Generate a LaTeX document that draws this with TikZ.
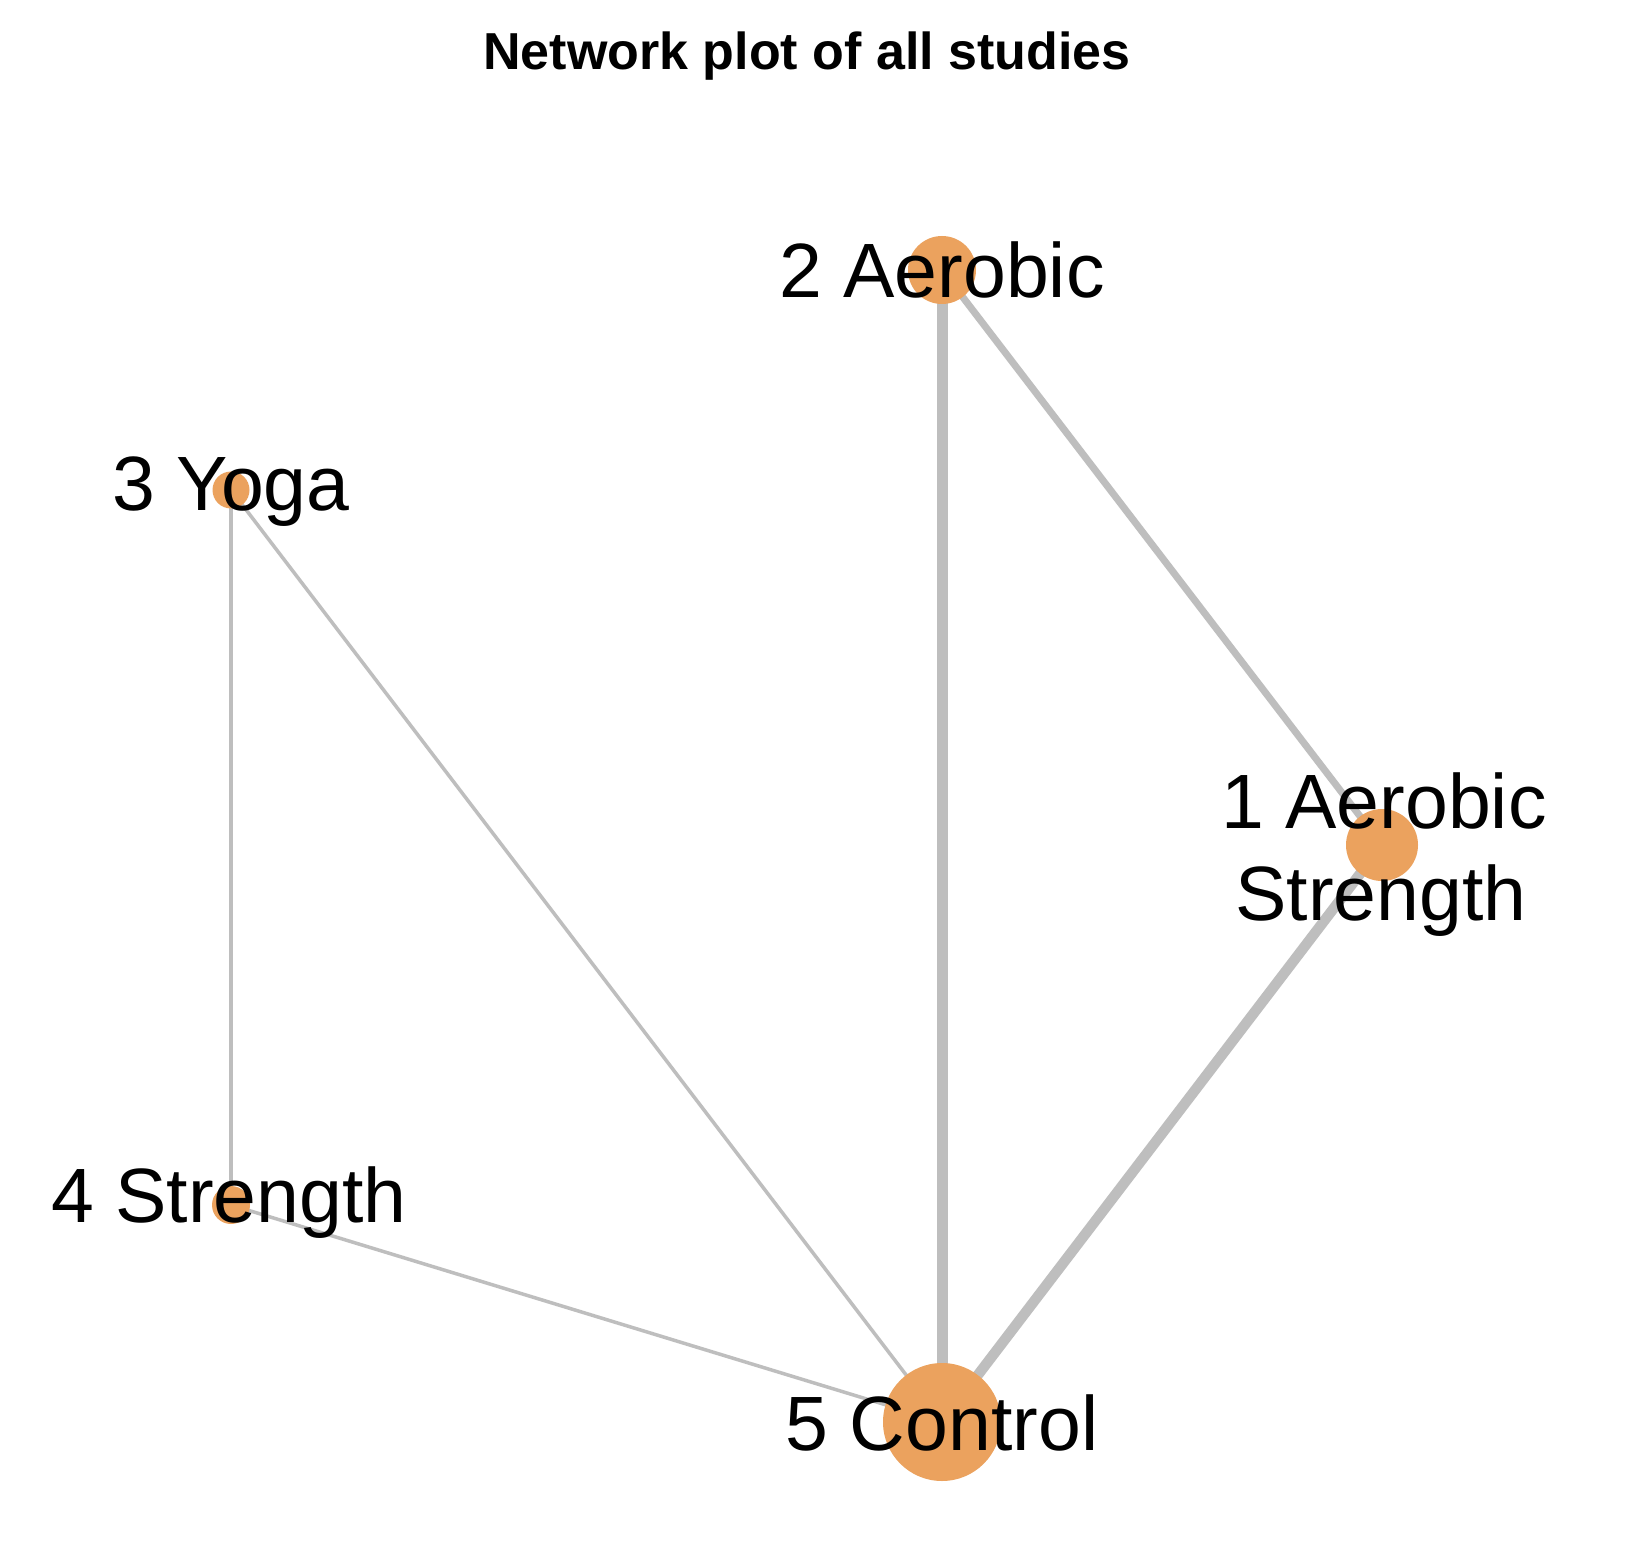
\documentclass[tikz,border=0pt]{standalone}
\usepackage{fontspec}
\setmainfont{Liberation Sans}
\pgfdeclarelayer{canvas}
\pgfdeclarelayer{background}
\pgfsetlayers{canvas,background,main}
\definecolor{nodeorange}{RGB}{235,162,94}
\definecolor{edgegray}{RGB}{190,190,190}
\tikzset{
  trt/.style={circle, fill=nodeorange, draw=none, inner sep=0pt, minimum size=#1},
  lbl/.style={anchor=base, inner sep=0pt, font=\fontsize{38.5pt}{46pt}\selectfont, text=black},
  ttl/.style={anchor=base, inner sep=0pt, font=\fontsize{26pt}{30pt}\selectfont\bfseries, text=black},
  edge/.style={draw=edgegray, line width=#1, line cap=butt},
}
\begin{document}
\begin{tikzpicture}[x=0.5pt, y=-0.5pt]
\useasboundingbox (0,0) rectangle (1628,1556);
\begin{pgfonlayer}{canvas}
\fill[white] (0,0) rectangle (1628,1556);
\end{pgfonlayer}
% treatment circles (diameters in pt = px/2)
\node[trt=36pt] (n1) at (1382,845) {};
\node[trt=34pt] (n2) at (942,270) {};
\node[trt=18.5pt] (n3) at (231,490) {};
\node[trt=19pt] (n4) at (231,1205) {};
\node[trt=59pt] (n5) at (942,1422) {};
% edges
\begin{pgfonlayer}{background}
\draw[edge=5.5pt] (n2.center) -- (n5.center);
\draw[edge=5.2pt] (n1.center) -- (n5.center);
\draw[edge=3.5pt] (n2.center) -- (n1.center);
\draw[edge=1.75pt] (n3.center) -- (n5.center);
\draw[edge=1.75pt] (n4.center) -- (n5.center);
\draw[edge=1.6pt] (n3.center) -- (n4.center);
\end{pgfonlayer}
% labels
\node[lbl] (l2) at (942,298) {2 Aerobic};
\node[lbl] (l5) at (942,1450) {5 Control};
\node[lbl] (l3) at (231,510) {3 Yoga};
\node[lbl] (l4) at (229,1222) {4 Strength};
\node[lbl] (l1a) at (1384,828) {1 Aerobic};
\node[lbl] (l1b) at (1381,920) {Strength};
% title
\node[ttl] (title) at (807,70) {Network plot of all studies};
\end{tikzpicture}
\end{document}
